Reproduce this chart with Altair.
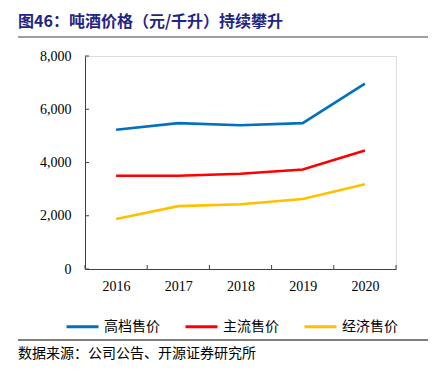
import altair as alt
import pandas as pd

years = [2016, 2017, 2018, 2019, 2020]
high = [5230, 5480, 5400, 5480, 6960]
mainstream = [3500, 3500, 3580, 3740, 4450]
economy = [1880, 2360, 2430, 2630, 3180]
series = ["高档售价", "主流售价", "经济售价"]
colors = ["#0070C0", "#FF0000", "#FFC000"]
y_ticks = [0, 2000, 4000, 6000, 8000]
x_bounds = [y - 0.5 for y in years] + [years[-1] + 0.5]
title_text = "图46：吨酒价格（元/千升）持续攀升"
source_text = "数据来源：公司公告、开源证券研究所"

W, H = 311, 213
rows = []
for s, vals in zip(series, [high, mainstream, economy]):
    for yr, v in zip(years, vals):
        rows.append({"year": yr, "value": v, "series": s})
df = pd.DataFrame(rows)

xscale = alt.Scale(domain=[x_bounds[0], x_bounds[-1]], nice=False, zero=False)
yscale = alt.Scale(domain=[0, 8000], nice=False)
num_font = "Liberation Serif"
cjk = "Noto Sans CJK SC"

xaxis = alt.Axis(values=years, format="d", ticks=False, grid=False, title=None,
                 labelFont=num_font, labelFontSize=14, labelColor="black",
                 labelPadding=10, domainColor="#404040", labelFlush=False)
yaxis = alt.Axis(values=y_ticks, format=",.0f", ticks=False, grid=False, title=None,
                 labelFont=num_font, labelFontSize=14, labelColor="black",
                 labelPadding=14, domainColor="#404040")

lines = alt.Chart(df).mark_line(strokeWidth=2.6).encode(
    x=alt.X("year:Q", scale=xscale, axis=xaxis),
    y=alt.Y("value:Q", scale=yscale, axis=yaxis),
    color=alt.Color("series:N", scale=alt.Scale(domain=series, range=colors), sort=series,
                    legend=alt.Legend(orient="none", legendX=-20, legendY=253,
                                      direction="horizontal", title=None,
                                      symbolType="stroke", symbolSize=1024,
                                      symbolStrokeWidth=3, labelFont=cjk,
                                      labelFontSize=14, labelColor="black",
                                      labelOffset=4, columnPadding=19)),
)

ytick_rules = alt.Chart(pd.DataFrame({"value": y_ticks})).mark_rule(color="#404040", strokeWidth=1).encode(
    y=alt.Y("value:Q", scale=yscale, axis=yaxis),
    x=alt.value(0), x2=alt.value(4),
)
xtick_rules = alt.Chart(pd.DataFrame({"year": x_bounds})).mark_rule(color="#404040", strokeWidth=1).encode(
    x=alt.X("year:Q", scale=xscale, axis=xaxis),
    y=alt.value(H), y2=alt.value(H - 4),
)

one = pd.DataFrame({"t": [title_text]})
title = alt.Chart(one).mark_text(align="left", baseline="middle", font=cjk, fontSize=16,
                                 fontWeight="bold", color="#1F2585").encode(
    text="t:N", x=alt.value(-67), y=alt.value(-34))
source = alt.Chart(pd.DataFrame({"t": [source_text]})).mark_text(
    align="left", baseline="middle", font=cjk, fontSize=14, color="black").encode(
    text="t:N", x=alt.value(-67), y=alt.value(298))

top_rule = alt.Chart(one).mark_rule(color="#BFBFBF", strokeWidth=1).encode(
    x=alt.value(-67), x2=alt.value(343), y=alt.value(-55))
under_title = alt.Chart(one).mark_rule(color="#7F7F7F", strokeWidth=1.5).encode(
    x=alt.value(-67), x2=alt.value(343), y=alt.value(-19))
bottom_rule = alt.Chart(one).mark_rule(color="black", strokeWidth=1).encode(
    x=alt.value(-67), x2=alt.value(343), y=alt.value(284))

chart = alt.layer(
    lines, ytick_rules, xtick_rules, title, source, top_rule, under_title, bottom_rule
).properties(
    width=W, height=H,
    autosize=alt.AutoSizeParams(type="none"),
    padding={"left": 77, "top": 48, "right": 37, "bottom": 94},
).configure_view(stroke=None).configure(background="white")

chart.save("out.html", embed_options={"renderer": "svg", "actions": False})
